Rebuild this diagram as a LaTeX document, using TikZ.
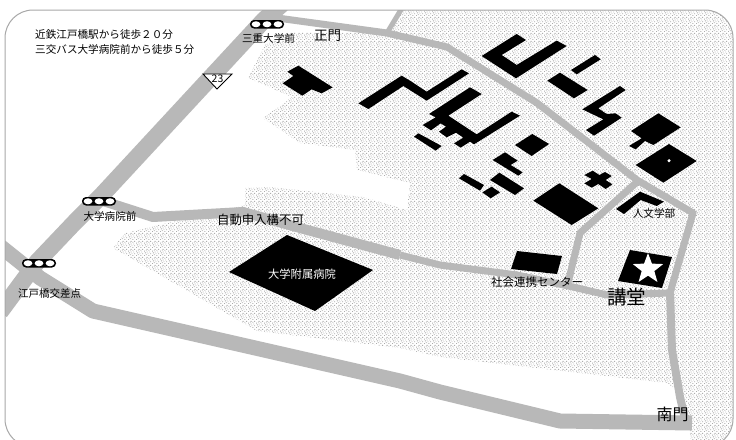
\documentclass[tikz,border=0pt]{standalone}
\usepackage{fontspec}
\setmainfont{Noto Sans CJK JP}
\usetikzlibrary{patterns,shapes.geometric}
\pgfdeclarepatternformonly{stipple}{\pgfpointorigin}{\pgfqpoint{8pt}{8pt}}{\pgfqpoint{8pt}{8pt}}{
  \pgfpathrectangle{\pgfqpoint{0pt}{0pt}}{\pgfqpoint{1pt}{1pt}}
  \pgfpathrectangle{\pgfqpoint{2pt}{1pt}}{\pgfqpoint{1pt}{1pt}}
  \pgfpathrectangle{\pgfqpoint{5pt}{0pt}}{\pgfqpoint{1pt}{1pt}}
  \pgfpathrectangle{\pgfqpoint{7pt}{2pt}}{\pgfqpoint{1pt}{1pt}}
  \pgfpathrectangle{\pgfqpoint{1pt}{3pt}}{\pgfqpoint{1pt}{1pt}}
  \pgfpathrectangle{\pgfqpoint{4pt}{2pt}}{\pgfqpoint{1pt}{1pt}}
  \pgfpathrectangle{\pgfqpoint{3pt}{4pt}}{\pgfqpoint{1pt}{1pt}}
  \pgfpathrectangle{\pgfqpoint{6pt}{4pt}}{\pgfqpoint{1pt}{1pt}}
  \pgfpathrectangle{\pgfqpoint{0pt}{5pt}}{\pgfqpoint{1pt}{1pt}}
  \pgfpathrectangle{\pgfqpoint{5pt}{6pt}}{\pgfqpoint{1pt}{1pt}}
  \pgfpathrectangle{\pgfqpoint{2pt}{6pt}}{\pgfqpoint{1pt}{1pt}}
  \pgfpathrectangle{\pgfqpoint{7pt}{7pt}}{\pgfqpoint{1pt}{1pt}}
  \pgfpathrectangle{\pgfqpoint{3pt}{7pt}}{\pgfqpoint{1pt}{1pt}}
  \pgfusepath{fill}
}
\definecolor{roadgray}{HTML}{B8B8B8}
\definecolor{stipplegray}{HTML}{ACACAC}
\definecolor{framegray}{HTML}{A8A8A8}
\tikzset{
  road/.style={draw=roadgray,line join=round,line cap=butt},
  bldg/.style={fill=black,draw=none},
  campus/.style={pattern=stipple,pattern color=stipplegray,draw=none},
  lab/.style={inner sep=0pt,text=black},
  sz/.style={font=\fontsize{#1}{#1}\selectfont},
  signalbody/.style={fill=black,rounded corners=4pt,draw=none},
  lamp/.style={fill=white,draw=none},
}
\begin{document}
\begin{tikzpicture}[x=1pt,y=-1pt]
\useasboundingbox (0,0) rectangle (736,439);
\fill[white] (0,0) rectangle (736,439);
\begin{scope}
\clip[rounded corners=28pt] (5,10) rectangle (733,447);
% campus ground
\fill[campus] (400,10)--(736,10)--(736,447)--(692,447)--(684,395)--(667,383)--(440,357)--(400,348)--(257,331)--(113,248)--(125,233)--(245,205)--(245,188)--(270,187)--(363,197)--(407,210)--(410,183)--(357,170)--(355,150)--(300,143)--(263,118)--(292,97)--(248,78)--(265,45)--(290,32)--(390,33)--cycle;
% roads
\draw[road,line width=17pt] (0,312)--(37,262)--(75,222)--(100,197)--(264,20)--(282,4);
\draw[road,line width=15pt] (0,246)--(40,278)--(93,311)--(400,381)--(440,392)--(560,421)--(692,423);
\draw[road,line width=10pt] (100,200)--(153,217)--(243,212)--(300,228)--(400,255);
\draw[road,line width=7pt] (400,255)--(440,265)--(517,275)--(573,287)--(607,295)--(670,293);
\draw[road,line width=8pt] (670,293)--(672,350)--(680,397)--(686,423);
\draw[road,line width=7pt] (670,293)--(693,213)--(637,180)--(537,103)--(447,47)--(387,33)--(270,17);
\draw[road,line width=5pt] (387,33)--(402,8);
\draw[road,line width=7pt] (637,182)--(580,233)--(568,283);
\end{scope}
% frame
\draw[framegray,line width=1pt,rounded corners=28pt] (5,10) rectangle (733,447);
% hospital and lower-right buildings
\fill[bldg] (287,235)--(373,270)--(315,311)--(229,272)--cycle;
\fill[bldg] (517,251)--(562,256)--(557,274)--(511,269)--cycle;
\fill[bldg] (630,250)--(672,257)--(662,288)--(618,281)--cycle;
\node[star,star points=5,star point ratio=2.4,fill=white,draw=none,minimum size=32pt,inner sep=0pt] (star) at (648,269) {};
% upper buildings, traced at 3x scale from (270,10)
\begin{scope}[xshift=270pt,yshift=-10pt,x=0.33333pt,y=-0.33333pt]
\fill[bldg] (85,167)--(188,232)--(155,250)--(125,238)--(97,257)--(38,220)--(70,198)--(52,185)--cycle;
\fill[bldg] (265,280)--(395,197)--(420,212)--(470,245)--(575,178)--(597,190)--(470,272)--(400,228)--(295,297)--cycle;
\fill[bldg] (600,232)--(635,252)--(535,317)--(620,373)--(725,305)--(750,317)--(612,403)--(600,395)--(572,413)--(552,400)--(580,383)--(558,368)--(530,382)--(507,365)--(528,350)--(512,340)--(483,361)--(458,345)--(497,322)--(477,312)--cycle;
\fill[bldg] (445,370)--(515,408)--(497,422)--(432,380)--cycle;
\fill[bldg] (740,72)--(768,90)--(695,135)--(740,165)--(860,92)--(890,108)--(738,205)--(635,138)--cycle;
\fill[bldg] (975,135)--(992,148)--(920,193)--(903,180)--cycle;
\fill[bldg] (870,188)--(953,240)--(912,265)--(832,212)--cycle;
\fill[bldg] (1050,228)--(1067,240)--(985,295)--(1010,312)--(1037,310)--(1055,323)--(972,377)--(948,360)--(1000,328)--(937,298)--cycle;
\fill[bldg] (1165,310)--(1232,352)--(1150,405)--(1125,393)--(1097,418)--(1077,408)--(1115,385)--(1083,363)--cycle;
\fill[bldg] (1197,402)--(1280,453)--(1180,518)--(1097,465)--cycle;
\fill[white] (1197,452) circle (5);
\fill[bldg] (735,405)--(787,372)--(837,402)--(785,438)--cycle;
\fill[bldg] (705,427)--(743,452)--(722,465)--(758,487)--(745,497)--(668,450)--cycle;
\fill[bldg] (688,488)--(762,535)--(735,555)--(660,510)--cycle;
\fill[bldg] (582,492)--(642,525)--(630,542)--(567,505)--cycle;
\fill[bldg] (665,530)--(690,547)--(662,565)--(637,547)--cycle;
\fill[bldg] (968,482)--(988,495)--(1005,486)--(1025,498)--(1007,510)--(1027,523)--(1007,537)--(985,522)--(965,533)--(943,520)--(965,507)--(943,495)--cycle;
\fill[bldg] (868,520)--(985,595)--(905,645)--(790,572)--cycle;
\fill[bldg] (1110,545)--(1182,575)--(1160,588)--(1112,570)--(1062,612)--(1038,597)--cycle;
\end{scope}
% traffic signals
\foreach \sx/\sy/\sn in {250/20/a,82/197/b,22/259/c}{
  \fill[signalbody] (\sx,\sy) rectangle ++(34,8.5);
  \foreach \k in {1,2,3}{
    \fill[lamp] ({\sx+0.5+\k*11-5.5},{\sy+4.25}) ellipse (4.4 and 3);
  }
}
% route marker
\draw[black,line width=0.9pt,fill=white] (203,74)--(232,74)--(217,89)--cycle;
\node[lab,sz=10.5] (route) at (217.5,78.5) {23};
% labels
\node[lab,sz=10.6,anchor=west] (t1) at (35,34.5) {近鉄江戸橋駅から徒歩２０分};
\node[lab,sz=10.6,anchor=west] (t2) at (35,49) {三交バス大学病院前から徒歩５分};
\node[lab,sz=10.6] (sig1) at (268.5,38.5) {三重大学前};
\node[lab,sz=13.5] (gate1) at (327.5,36) {正門};
\node[lab,sz=10.6] (sig2) at (110,216.5) {大学病院前};
\node[lab,sz=12.4] (note) at (260.5,220) {自動申入構不可};
\node[lab,sz=10.5] (sig3) at (49.5,294) {江戸橋交差点};
\node[lab,sz=11.3,text=white] (hosp) at (302,274) {大学附属病院};
\node[lab,sz=10.6] (hum) at (654,213) {人文学部};
\node[lab,sz=11.5] (soc) at (537,282) {社会連携センター};
\node[lab,sz=19.5] (aud) at (626.5,297) {講堂};
\node[lab,sz=16] (gate2) at (672.5,414) {南門};
\end{tikzpicture}
\end{document}
